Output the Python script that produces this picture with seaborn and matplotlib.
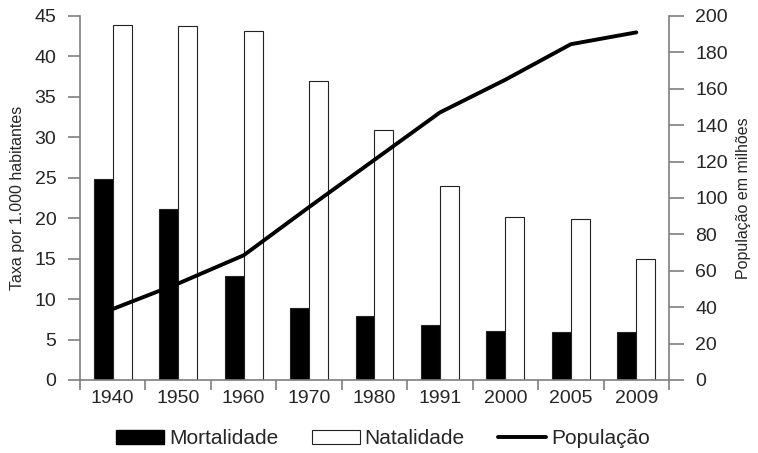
import numpy as np
import pandas as pd
import matplotlib
matplotlib.use('Agg')
import matplotlib.pyplot as plt
import seaborn as sns
from matplotlib.patches import Patch
from matplotlib.lines import Line2D

sns.set_style('ticks')
plt.rcParams['font.family'] = ['Liberation Sans', 'DejaVu Sans']

# data
anos = ['1940', '1950', '1960', '1970', '1980', '1991', '2000', '2005', '2009']
mortalidade = [24.8, 21.1, 12.8, 8.9, 7.9, 6.8, 6.1, 5.9, 5.9]
natalidade = [43.9, 43.8, 43.1, 37.0, 30.9, 24.0, 20.1, 19.9, 14.9]
populacao = [39, 53, 68.5, 95, 121, 147, 165, 184.5, 191]

df = pd.DataFrame({'ano': anos * 2,
                   'taxa': mortalidade + natalidade,
                   'tipo': ['Mortalidade'] * len(anos) + ['Natalidade'] * len(anos)})

AX_COL = '#7f7f7f'

fig = plt.figure(figsize=(7.58, 4.53), dpi=100)
ax = fig.add_axes([80/758, 73/453, 589/758, 364/453])

sns.barplot(data=df, x='ano', y='taxa', hue='tipo', palette=['black', 'white'],
            width=0.58, edgecolor='#222222', linewidth=0.8, ax=ax, legend=False)
ax.set_ylim(0, 45)
ax.set_xlim(-0.5, len(anos) - 0.5)
ax.set_yticks(np.arange(0, 46, 5))
ax.set_xlabel('')
ax.set_ylabel('Taxa por 1.000 habitantes', fontsize=11.5, labelpad=7)

# category labels at centres, ticks at the boundaries
ax.set_xticks(range(len(anos)))
ax.set_xticklabels(anos)
ax.set_xticks(np.arange(-0.5, len(anos)), minor=True)
ax.tick_params(axis='x', which='major', length=0, labelsize=14, pad=7)
ax.tick_params(axis='x', which='minor', length=7, width=1.2, color=AX_COL)
ax.tick_params(axis='y', length=9, width=1.2, color=AX_COL, labelsize=14, pad=8)

ax2 = ax.twinx()
sns.lineplot(x=np.arange(len(anos)), y=populacao, color='black', linewidth=2.8, ax=ax2)
ax2.set_ylim(0, 200)
ax2.set_yticks(np.arange(0, 201, 20))
ax2.set_ylabel('População em milhões', fontsize=11.5, labelpad=6)
ax2.tick_params(axis='y', length=11, width=1.2, color=AX_COL, labelsize=14, pad=8)

for a in (ax, ax2):
    a.spines['top'].set_visible(False)
    for s in ('left', 'right', 'bottom'):
        a.spines[s].set_color(AX_COL)
        a.spines[s].set_linewidth(1.2)
ax.spines['right'].set_visible(False)
ax2.spines['left'].set_visible(False)
ax2.spines['bottom'].set_visible(False)

handles = [Patch(facecolor='black', edgecolor='black'),
           Patch(facecolor='white', edgecolor='#222222', linewidth=0.8),
           Line2D([], [], color='black', linewidth=2.8)]
fig.legend(handles, ['Mortalidade', 'Natalidade', 'População'],
           loc='center', bbox_to_anchor=(383/758, 1 - 439/453), ncol=3,
           frameon=False, fontsize=15, handlelength=2.3, handleheight=0.67,
           handletextpad=0.25, columnspacing=1.6)

fig.savefig('out.png', dpi=100)
